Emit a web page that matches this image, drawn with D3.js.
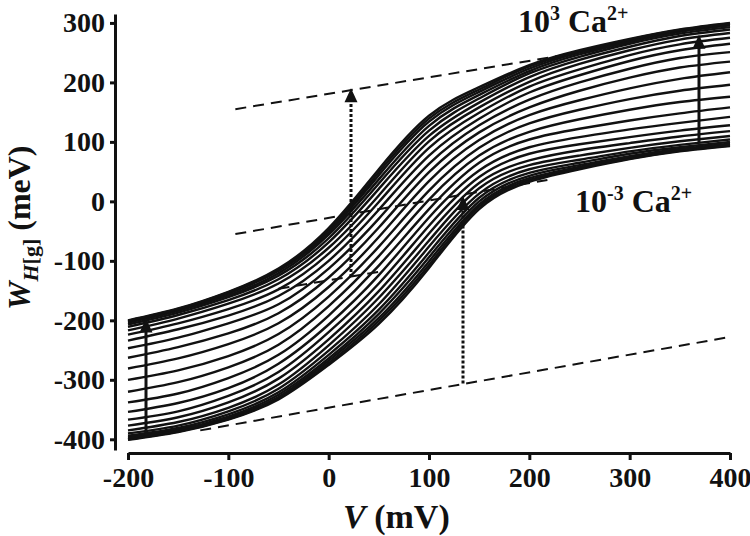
<!DOCTYPE html>
<html>
<head>
<meta charset="utf-8">
<script src="https://cdn.jsdelivr.net/npm/d3@7"></script>
<style>
  html, body { margin: 0; padding: 0; background: #fff; }
  svg { display: block; }
  text { font-family: "Liberation Serif", "Times New Roman", serif; font-weight: bold; fill: #111; }
</style>
</head>
<body>
<svg id="chart" width="750" height="536"></svg>
<script>
// ---- data ----
const voltages = [-200, -150, -100, -50, 0, 50, 100, 150, 200, 250, 300, 350, 400];
const caLog10 = [-3, -2.75, -2.5, -2.25, -2, -1.75, -1.5, -1.25, -1, -0.75, -0.5, -0.25, 0,
                 0.25, 0.5, 0.75, 1, 1.25, 1.5, 1.75, 2, 2.25, 2.5, 2.75, 3];
// W_H[g] (meV) for each Ca2+ level, at each voltage above
const wCurves = [
  [-401, -388, -367, -333, -275, -206, -112, -13, 33, 54, 71, 84, 93],
  [-400, -387, -366, -331, -272, -201, -107, -9, 36, 56, 72, 85, 94],
  [-399, -386, -364, -329, -268, -196, -101, -5, 39, 58, 74, 86, 95],
  [-397, -384, -362, -325, -264, -189, -94, 0, 43, 61, 76, 88, 97],
  [-394, -381, -358, -321, -258, -182, -86, 6, 48, 65, 80, 91, 100],
  [-390, -377, -353, -315, -251, -173, -76, 13, 54, 70, 84, 95, 104],
  [-385, -371, -347, -308, -242, -162, -66, 22, 61, 77, 90, 101, 110],
  [-377, -363, -338, -298, -232, -151, -54, 31, 69, 86, 98, 109, 118],
  [-367, -353, -327, -287, -220, -138, -41, 41, 80, 96, 108, 119, 128],
  [-354, -339, -314, -273, -207, -124, -27, 52, 91, 108, 121, 132, 142],
  [-338, -323, -297, -258, -192, -108, -13, 65, 104, 122, 136, 148, 158],
  [-320, -304, -279, -241, -176, -92, 3, 77, 117, 138, 154, 167, 176],
  [-300, -284, -260, -223, -160, -76, 18, 90, 131, 154, 172, 186, 196],
  [-281, -264, -240, -205, -144, -60, 34, 103, 145, 170, 190, 206, 217],
  [-263, -245, -222, -188, -128, -44, 49, 116, 158, 186, 208, 225, 235],
  [-247, -229, -205, -173, -113, -29, 63, 128, 171, 200, 223, 241, 251],
  [-234, -215, -192, -159, -100, -14, 77, 139, 183, 212, 236, 254, 265],
  [-224, -205, -181, -148, -88, -1, 90, 149, 193, 222, 246, 264, 275],
  [-217, -197, -172, -138, -78, 10, 101, 158, 201, 231, 254, 272, 283],
  [-211, -191, -166, -131, -69, 21, 110, 166, 209, 238, 260, 278, 289],
  [-207, -187, -161, -125, -62, 30, 119, 173, 215, 243, 265, 282, 293],
  [-204, -184, -158, -121, -56, 37, 127, 179, 219, 247, 268, 285, 296],
  [-202, -182, -155, -117, -52, 44, 134, 184, 223, 250, 270, 287, 298],
  [-201, -181, -153, -115, -48, 49, 139, 188, 227, 252, 272, 288, 299],
  [-200, -180, -152, -113, -45, 54, 144, 192, 229, 254, 273, 289, 300]
];
// dashed guide lines: [[V1, W1], [V2, W2]]
const dashedLines = [
  [[-93, 155], [235, 246]],
  [[-93, -55], [218, 36]],
  [[-50, -147], [52, -118]],
  [[-128, -385], [400, -228]]
];
// arrows: [V, W from, W to]
const dottedArrows = [[22, -127, 190], [134, -306, 9]];
const solidArrows = [[-182, -393, -197], [369, 98, 280]];
const xTicks = [-200, -100, 0, 100, 200, 300, 400];
const yTicks = [-400, -300, -200, -100, 0, 100, 200, 300];

// ---- drawing ----
const svg = d3.select("#chart");
const x = d3.scaleLinear().domain([-200, 400]).range([128, 730]);
const y = d3.scaleLinear().domain([-418, 315]).range([450, 14]);

const line = d3.line()
  .x((d, i) => x(voltages[i]))
  .y(d => y(d))
  .curve(d3.curveNatural);

svg.append("g").selectAll("path")
  .data(wCurves)
  .join("path")
  .attr("d", d => line(d))
  .attr("fill", "none")
  .attr("stroke", "#111")
  .attr("stroke-width", 2.4);

svg.append("g").selectAll("line")
  .data(dashedLines)
  .join("line")
  .attr("x1", d => x(d[0][0])).attr("y1", d => y(d[0][1]))
  .attr("x2", d => x(d[1][0])).attr("y2", d => y(d[1][1]))
  .attr("stroke", "#111").attr("stroke-width", 2)
  .attr("stroke-dasharray", "11,7");

function arrowHead(g, a) {
  const xt = Math.round(x(a[0])), yt = y(a[2]);
  g.append("path")
    .attr("d", `M${xt},${yt} L${xt - 6.5},${yt + 14} L${xt + 6.5},${yt + 14} Z`)
    .attr("fill", "#111");
}
const ga = svg.append("g");
dottedArrows.forEach(a => {
  const xa = Math.round(x(a[0]));
  ga.append("line")
    .attr("x1", xa).attr("x2", xa)
    .attr("y1", y(a[1])).attr("y2", y(a[2]) + 12)
    .attr("stroke", "#111").attr("stroke-width", 3)
    .attr("stroke-dasharray", "3,2");
  arrowHead(ga, a);
});
solidArrows.forEach(a => {
  const xa = Math.round(x(a[0]));
  ga.append("line")
    .attr("x1", xa).attr("x2", xa)
    .attr("y1", y(a[1])).attr("y2", y(a[2]) + 12)
    .attr("stroke", "#111").attr("stroke-width", 3);
  arrowHead(ga, a);
});

// axes
const fmt = d => String(d);
const yAxis = d3.axisLeft(y).tickValues(yTicks).tickFormat(fmt).tickSize(5).tickSizeOuter(0).tickPadding(5);
const xAxis = d3.axisBottom(x).tickValues(xTicks).tickFormat(fmt).tickSize(7).tickSizeOuter(0).tickPadding(7);
const gy = svg.append("g").attr("transform", "translate(115,0)").call(yAxis);
const gx = svg.append("g").attr("transform", "translate(0,453)").call(xAxis);
[gy, gx].forEach(g => {
  g.select(".domain").attr("stroke", "#111").attr("stroke-width", 3);
  g.selectAll(".tick line").attr("stroke", "#111").attr("stroke-width", 3);
  g.selectAll(".tick text")
    .attr("font-family", "Liberation Serif, serif")
    .attr("font-weight", "bold")
    .attr("font-size", 28)
    .attr("fill", "#111");
});

// axis titles
const xt = svg.append("text").attr("x", 343).attr("y", 528).attr("font-size", 34);
xt.append("tspan").attr("font-style", "italic").text("V");
xt.append("tspan").text(" (mV)");

const yt = svg.append("text").attr("transform", "translate(30,310) rotate(-90)").attr("font-size", 32);
yt.append("tspan").attr("font-style", "italic").text("W");
yt.append("tspan").attr("font-size", 22).attr("dy", 8).attr("font-style", "italic").text("H");
yt.append("tspan").attr("font-size", 22).text("[g]");
yt.append("tspan").attr("dy", -8).text(" (meV)");

// series labels
function caLabel(xp, yp, exp) {
  const t = svg.append("text").attr("x", xp).attr("y", yp).attr("font-size", 32);
  t.append("tspan").text("10");
  t.append("tspan").attr("dy", -12).attr("font-size", 20).text(exp);
  t.append("tspan").attr("dy", 12).text(" Ca");
  t.append("tspan").attr("dy", -12).attr("font-size", 20).text("2+");
}
caLabel(518, 32, "3");
caLabel(575, 212, "-3");
</script>
</body>
</html>
